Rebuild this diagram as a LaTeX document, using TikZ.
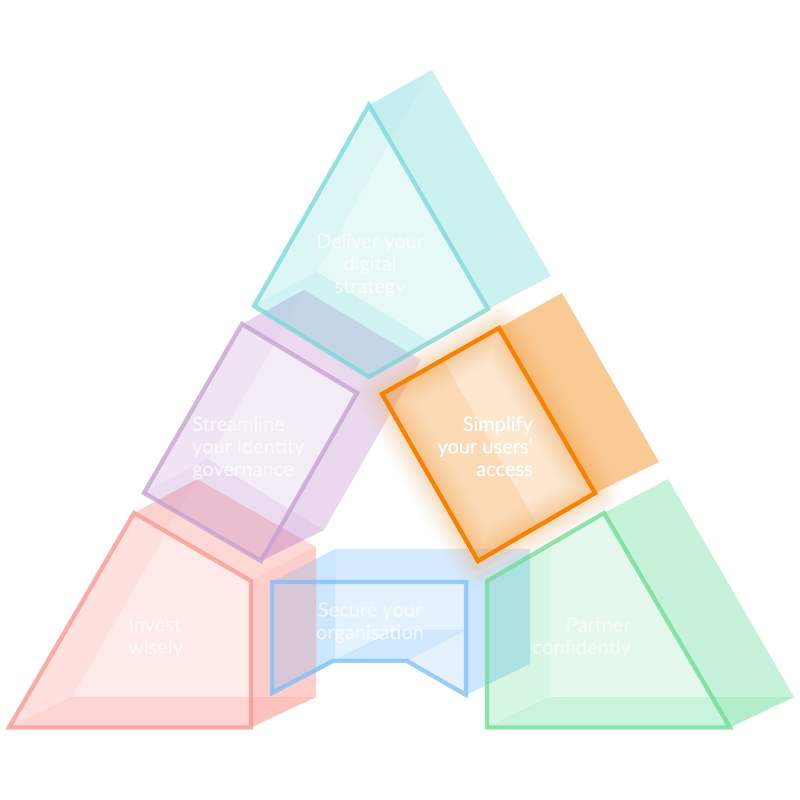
\documentclass[tikz,border=0pt]{standalone}
\usepackage{fontspec}
\setmainfont{Lato}[FakeBold=0.5]
\definecolor{tealbase}{RGB}{70,205,205}
\definecolor{tealline}{RGB}{120,216,216}
\definecolor{purpbase}{RGB}{170,100,190}
\definecolor{purpline}{RGB}{196,160,208}
\definecolor{pinkbase}{RGB}{250,100,90}
\definecolor{pinkline}{RGB}{248,150,143}
\definecolor{bluebase}{RGB}{100,180,250}
\definecolor{blueline}{RGB}{125,192,248}
\definecolor{greenbase}{RGB}{70,215,130}
\definecolor{greenline}{RGB}{108,221,150}
\definecolor{orangebase}{RGB}{245,130,0}
\definecolor{orangeglow}{RGB}{248,185,120}
\tikzset{
  edgeline/.style={draw=#1, line width=4.3pt, draw opacity=.75, miter limit=10},
  label/.style={font=\fontsize{20}{22.5}\selectfont, inner sep=0pt, text=white, text opacity=#1}
}
\newcommand{\topstrut}{\rule{0pt}{14pt}}
\begin{document}
\begin{tikzpicture}[x=1pt,y=-1pt]
\useasboundingbox (0,0) rectangle (800,800);
\fill[white] (0,0) rectangle (800,800);

% Invest wisely (pink)
\begin{scope}[fill=pinkbase]
\fill[fill opacity=.25] (134,513) -- (197,479) -- (316,547) -- (251,581) -- cycle;
\fill[fill opacity=.31] (251,581) -- (316,547) -- (316,697) -- (251,697) -- cycle;
\fill[fill opacity=.39] (251,697) -- (316,697) -- (251,727.5) -- cycle;
\fill[fill opacity=.20] (134,513) -- (166,532) -- (72,697) -- (9,727.5) -- cycle;
\fill[fill opacity=.13] (166,532) -- (251,581) -- (251,697) -- (72,697) -- cycle;
\fill[fill opacity=.26] (9,727.5) -- (72,697) -- (251,697) -- (251,727.5) -- cycle;
\fill[fill opacity=.05] (134,513) -- (197,479) -- (166,532) -- cycle;
\end{scope}
\draw[edgeline=pinkline] (134,513) -- (251,581) -- (251,727.5) -- (9,727.5) -- cycle;

% Streamline (purple)
\begin{scope}[fill=purpbase]
\fill[fill opacity=.24] (242,324) -- (304,290) -- (421,360) -- (357,393) -- cycle;
\fill[fill opacity=.25] (357,393) -- (421,360) -- (324,530) -- (290,510) -- cycle;
\fill[fill opacity=.32] (290,510) -- (324,530) -- (261,561) -- cycle;
\fill[fill opacity=.17] (242,324) -- (274,344) -- (208,459) -- (144,493) -- cycle;
\fill[fill opacity=.12] (274,344) -- (357,393) -- (290,510) -- (208,459) -- cycle;
\fill[fill opacity=.22] (144,493) -- (208,459) -- (290,510) -- (261,561) -- cycle;
\fill[fill opacity=.04] (242,324) -- (304,290) -- (274,344) -- cycle;
\end{scope}
\draw[edgeline=purpline] (242,324) -- (357,393) -- (261,561) -- (144,493) -- cycle;

% Deliver (teal)
\begin{scope}[fill=tealbase]
\fill[fill opacity=.27] (369,105) -- (432,70) -- (551,276) -- (488,309) -- cycle;
\fill[fill opacity=.05] (369,105) -- (432,70) -- (389,142) -- cycle;
\fill[fill opacity=.19] (369,105) -- (389,142) -- (317,272) -- (254,306) -- cycle;
\fill[fill opacity=.125] (389,142) -- (488,309) -- (432,343) -- (317,272) -- cycle;
\fill[fill opacity=.24] (254,306) -- (317,272) -- (432,343) -- (369,377) -- cycle;
\end{scope}
\draw[edgeline=tealline] (369,105) -- (488,309) -- (369,377) -- (254,306) -- cycle;

% Secure (blue)
\begin{scope}[fill=bluebase]
\fill[fill opacity=.27] (335,549) -- (530,549) -- (466,582) -- (335,582) -- cycle;
\fill[fill opacity=.24] (272,582) -- (316,559) -- (316,671) -- (272,693) -- cycle;
\fill[fill opacity=.33] (316,559) -- (335,549) -- (335,661) -- (316,671) -- cycle;
\fill[fill opacity=.33] (466,582) -- (530,549) -- (530,664) -- (466,695) -- cycle;
\fill[fill opacity=.17] (335,582) -- (466,582) -- (466,630) -- (396,630) -- (335,661) -- cycle;
\fill[fill opacity=.30] (333,661) -- (407,661) -- (466,630) -- (396,630) -- cycle;
\fill[fill opacity=.17] (407,661) -- (466,630) -- (466,695) -- cycle;
\end{scope}
\draw[edgeline=blueline] (272,582) -- (466,582) -- (466,695) -- (407,661) -- (333,661) -- (272,693) -- cycle;

% Partner (green)
\begin{scope}[fill=greenbase]
\fill[fill opacity=.31] (604,513) -- (668,479) -- (794,697) -- (711.5,697) -- cycle;
\fill[fill opacity=.41] (711.5,697) -- (794,697) -- (730,727.5) -- cycle;
\fill[fill opacity=.21] (487,581) -- (549,546) -- (549,697) -- (487,727.5) -- cycle;
\fill[fill opacity=.146] (549,546) -- (604,513) -- (711.5,697) -- (549,697) -- cycle;
\fill[fill opacity=.29] (487,727.5) -- (549,697) -- (711.5,697) -- (730,727.5) -- cycle;
\end{scope}
\draw[edgeline=greenline] (604,513) -- (730,727.5) -- (487,727.5) -- (487,581) -- cycle;

% Simplify (orange), with its glow
\foreach \w in {2,4,...,20,23,26,30,34,38,44,50}{
  \draw[orangeglow, line width=\w pt, draw opacity=.035, line join=round]
    (499,328) -- (595,493) -- (478,561) -- (382,394) -- cycle;
}
\begin{scope}[fill=orangebase]
\fill[fill opacity=.42] (499,328) -- (562,293) -- (659,462) -- (595,493) -- cycle;
\fill[fill opacity=.29] (382,394) -- (443,360) -- (537,525) -- (478,561) -- cycle;
\fill[fill opacity=.19] (443,360) -- (499,328) -- (595,493) -- (537,525) -- cycle;
\end{scope}
\draw[draw=orangebase, line width=4.3pt] (499,328) -- (595,493) -- (478,561) -- (382,394) -- cycle;

% Labels
\node[label=.65, anchor=north, align=center] (deliver) at (370,233) {\topstrut Deliver your\\digital\\strategy};
\node[label=.65, anchor=north west, align=left] (streamline) at (192,416) {\topstrut Streamline\\your identity\\governance};
\node[label=1, anchor=north east, align=right] (simplify) at (533,416) {\topstrut Simplify\\your users'\\access};
\node[label=.65, anchor=north west, align=left] (invest) at (128,617) {\topstrut Invest\\wisely};
\node[label=.65, anchor=north, align=center] (secure) at (370,602) {\topstrut Secure your\\organisation};
\node[label=.65, anchor=north east, align=right] (partner) at (631,617) {\topstrut Partner\\confidently};
\end{tikzpicture}
\end{document}
